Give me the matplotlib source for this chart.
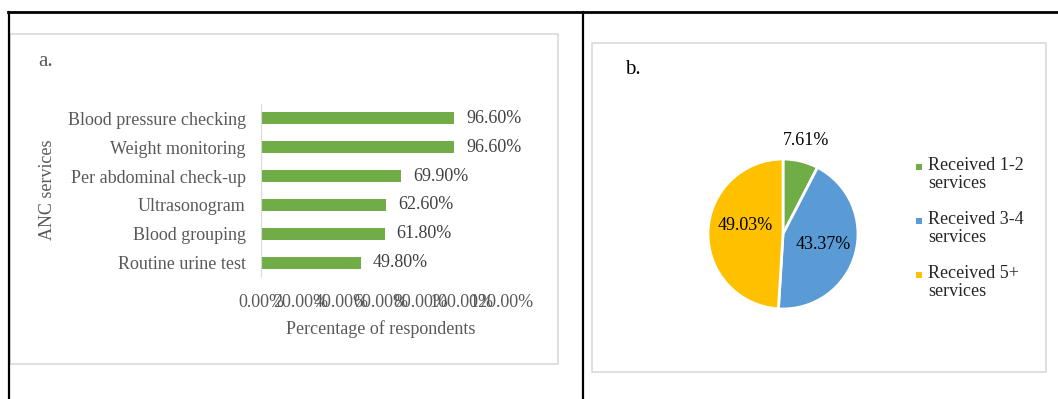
import matplotlib.pyplot as plt
from matplotlib.patches import Rectangle
from matplotlib.lines import Line2D
import numpy as np

plt.rcParams['font.family'] = ['Liberation Serif', 'DejaVu Serif']

# panel a data
services = ['Routine urine test', 'Blood grouping', 'Ultrasonogram',
            'Per abdominal check-up', 'Weight monitoring', 'Blood pressure checking']
pct_services = [49.8, 61.8, 62.6, 69.9, 96.6, 96.6]
x_ticks = [0, 20, 40, 60, 80, 100, 120]

# panel b data
groups = ['Received 1-2\nservices', 'Received 3-4\nservices', 'Received 5+\nservices']
pct_groups = [7.61, 43.37, 49.03]
group_colors = ['#70AD47', '#5B9BD5', '#FFC000']

W, H = 1058, 399
fig = plt.figure(figsize=(W / 100, H / 100), dpi=100)


def box(x0, y0, x1, y1):
    # pixel box (top-left origin) -> figure fraction [l, b, w, h]
    return [x0 / W, 1 - y1 / H, (x1 - x0) / W, (y1 - y0) / H]


def fline(x0, y0, x1, y1, **kw):
    fig.add_artist(Line2D([x0 / W, x1 / W], [1 - y0 / H, 1 - y1 / H], **kw))


# table borders
fline(8, 12, W, 12, color='black', lw=2)
fline(9, 12, 9, H, color='black', lw=1.6)
fline(583, 12, 583, H, color='black', lw=1.6)

# panel frames
for b in [box(10, 34, 558, 364), box(592, 43, 1046, 372)]:
    fig.add_artist(Rectangle((b[0], b[1]), b[2], b[3], transform=fig.transFigure,
                             fill=False, ec='#D9D9D9', lw=1.2))

# ---- a. bar chart ----
fs = 13
ax = fig.add_axes(box(261, 104, 501, 277))
ypos = np.arange(len(services))
ax.barh(ypos, pct_services, height=0.42, color='#70AD47')
for y, v in zip(ypos, pct_services):
    ax.text(v + 6, y, f'{v:.2f}%', va='center', ha='left', fontsize=fs, color='#404040')
ax.set_xlim(0, 120)
ax.set_ylim(-0.5, len(services) - 0.5)
ax.set_yticks(ypos)
ax.set_yticklabels(services, fontsize=fs, color='#595959')
ax.set_xticks(x_ticks)
ax.set_xticklabels([f'{t:.2f}%' for t in x_ticks], fontsize=fs, color='#595959')
ax.tick_params(axis='y', length=0, pad=11)
ax.tick_params(axis='x', length=0, pad=12)
for s in ['top', 'right', 'bottom']:
    ax.spines[s].set_visible(False)
ax.spines['left'].set_color('#D9D9D9')
ax.set_xlabel('Percentage of respondents', fontsize=fs, color='#595959', labelpad=7)
fig.text(47 / W, 1 - 190 / H, 'ANC services', rotation=90, ha='center', va='center',
         fontsize=fs, color='#595959')
fig.text(38 / W, 1 - 62 / H, 'a.', ha='left', va='center', fontsize=15, color='#595959')

# ---- b. pie chart ----
pax = fig.add_axes(box(708, 159, 858, 309))
wedges, _, autotexts = pax.pie(pct_groups, colors=group_colors, startangle=90,
                               counterclock=False, autopct='%.2f%%', pctdistance=0.55,
                               wedgeprops=dict(edgecolor='white', linewidth=2),
                               textprops=dict(fontsize=fs, color='black'))
pax.set_xlim(-1, 1)
pax.set_ylim(-1, 1)
# small slice label outside
t = autotexts[0]
ang = np.deg2rad((wedges[0].theta1 + wedges[0].theta2) / 2)
t.set_position((1.28 * np.cos(ang), 1.28 * np.sin(ang)))
# nudge the large slice label up a little, as in the original
x, y = autotexts[2].get_position()
autotexts[2].set_position((x + 0.05, y + 0.1))
fig.text(633 / W, 1 - 70 / H, 'b.', ha='center', va='center', fontsize=15, color='black')

# legend
for i, (lab, col) in enumerate(zip(groups, group_colors)):
    ytop = 167 + i * 54
    fig.add_artist(Rectangle((916 / W, 1 - (ytop + 3) / H), 6 / W, 6 / H,
                             transform=fig.transFigure, color=col, lw=0))
    fig.text(928 / W, 1 - (ytop - 10) / H, lab, ha='left', va='top', fontsize=fs,
             color='#262626', linespacing=1.05)

fig.savefig('out.png', dpi=100)
